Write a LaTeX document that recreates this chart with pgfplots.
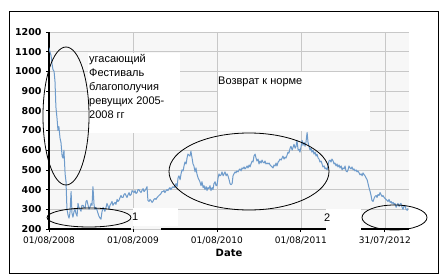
\documentclass[border=0pt]{standalone}
\usepackage{pgfplots}
\pgfplotsset{compat=1.18}
\usepackage{pgfplotstable}
\usepackage{fontspec}
\setmainfont{DejaVu Sans}
\newfontfamily\annot{Liberation Sans}
\definecolor{series}{HTML}{6E9BCB}
\definecolor{plotbg}{HTML}{F7F7F7}
\definecolor{gridc}{HTML}{C8C8C8}

\pgfplotstableread{
day value
0 1120
4 1100
9 1080
13 1040
17 1010
22 1000
26 950
30 820
35 760
39 700
43 720
48 660
52 640
57 570
61 560
65 600
70 480
74 440
78 300
83 270
87 255
91 280
96 390
100 280
104 260
109 290
113 300
117 280
122 265
126 330
130 310
135 300
139 290
143 320
148 320
152 310
157 305
161 340
165 345
170 320
174 300
178 310
183 330
187 320
191 415
196 320
200 300
204 310
209 295
213 280
217 265
222 255
226 250
230 285
235 310
239 300
243 290
248 310
252 330
257 315
261 300
265 320
270 330
274 340
278 320
283 330
287 335
291 325
296 350
300 340
304 345
309 360
313 370
317 360
322 360
326 375
330 380
335 370
339 360
344 375
348 385
352 370
357 375
361 395
365 390
370 385
374 395
378 380
383 385
387 400
391 400
396 390
400 385
404 395
409 405
413 390
417 395
422 405
426 415
430 345
435 340
439 350
443 345
448 335
452 340
456 350
461 355
465 350
470 360
474 365
478 370
483 375
487 380
491 390
496 390
500 395
504 385
509 395
513 400
517 395
522 405
526 410
530 400
535 410
539 415
544 410
548 420
552 430
557 415
561 460
565 470
570 450
574 480
578 500
583 495
587 520
591 540
596 530
600 560
604 580
609 575
613 570
617 595
622 560
626 530
630 520
635 490
639 510
643 480
648 460
652 450
656 440
661 420
665 440
670 410
674 420
678 400
683 415
687 395
691 410
696 405
700 420
704 395
709 410
713 400
717 430
722 440
726 420
730 420
735 460
739 480
743 470
748 475
752 490
757 470
761 480
765 490
770 470
774 480
778 470
783 450
787 430
791 425
796 430
800 470
804 480
809 490
813 485
817 495
822 490
826 500
830 505
835 495
839 510
843 505
848 515
852 505
856 510
861 520
865 510
870 525
874 515
878 530
883 545
887 540
891 570
896 580
900 560
904 545
909 555
913 530
917 545
922 535
926 550
930 540
935 535
939 545
943 530
948 535
952 530
957 535
961 525
965 520
970 515
974 510
978 525
983 520
987 535
991 520
996 540
1000 545
1004 555
1009 550
1013 560
1017 570
1022 555
1026 565
1030 560
1035 575
1039 590
1043 585
1048 610
1052 620
1057 600
1061 615
1065 630
1070 610
1074 620
1078 650
1083 600
1087 605
1091 590
1096 620
1100 650
1104 625
1109 640
1113 620
1117 640
1122 690
1126 640
1130 620
1135 600
1139 610
1143 590
1148 600
1152 580
1157 590
1161 570
1165 580
1170 560
1174 555
1178 540
1183 545
1187 530
1191 515
1196 520
1200 505
1204 510
1209 500
1213 520
1217 545
1222 550
1226 540
1230 555
1235 545
1239 530
1243 535
1248 520
1252 530
1256 515
1261 525
1265 510
1270 520
1274 500
1278 510
1283 505
1287 520
1291 495
1296 490
1300 500
1304 520
1309 510
1313 505
1317 515
1322 500
1326 505
1330 495
1335 500
1339 490
1343 495
1348 485
1352 475
1357 480
1361 470
1365 485
1370 475
1374 470
1378 460
1383 450
1387 430
1391 410
1396 390
1400 370
1404 345
1409 340
1413 355
1417 365
1422 370
1426 360
1430 375
1435 370
1439 385
1443 375
1448 365
1452 370
1457 360
1461 355
1465 350
1470 345
1474 340
1478 350
1483 335
1487 340
1491 330
1496 335
1500 325
1504 330
1509 310
1513 320
1517 330
1522 315
1526 325
1530 330
1535 310
1539 300
1543 315
1548 320
1552 300
1557 295
1561 305
}\pricedata

\begin{document}
\begin{tikzpicture}[x=1bp,y=1bp]
\begin{axis}[
  at={(49bp,47bp)}, anchor=south west,
  scale only axis, width=360bp, height=197bp,
  xmin=0, xmax=1565, ymin=200, ymax=1200,
  axis lines*=left,
  axis line style={-},
  x axis line style={draw=none},
  y axis line style={line width=2bp, black},
  axis background/.style={fill=plotbg},
  grid=major,
  major grid style={gridc, line width=0.6bp},
  xtick={0,365,730,1095,1460},
  xticklabels={01/08/2008,01/08/2009,01/08/2010,01/08/2011,31/07/2012},
  ytick={200,300,400,500,600,700,800,900,1000,1100,1200},
  tick align=outside,
  major tick length=3bp,
  tick style={black, line width=0.8bp},
  /pgf/number format/assume math mode=true,
  /pgf/number format/1000 sep={},
  yticklabel style={font=\fontsize{9.5bp}{11bp}\selectfont\bfseries, xshift=-1bp},
  xticklabel style={font=\fontsize{9bp}{11bp}\selectfont, yshift=-1bp},
  xlabel={Date},
  xlabel style={font=\fontsize{10bp}{12bp}\selectfont\bfseries, yshift=2bp},
]
\addplot[series, line width=1bp, mark=none, line join=round] table[x=day, y=value] {\pricedata};
\end{axis}

% white patches over the chart
\fill[white] (88,143) rectangle (180,223);
\fill[white] (218,145) rectangle (370,204);
\fill[white] (133,50) rectangle (178,68);
\fill[white] (326,46) rectangle (361,67);

% bottom axis line segments
\draw[line width=2bp] (49,47) -- (131,47);
\draw[line width=2bp] (161,47) -- (326,47);
\draw[line width=2bp] (361,47) -- (409,47);

% ellipses
\draw[line width=0.8bp] (66,160) ellipse [x radius=23, y radius=69];
\draw[line width=0.8bp] (89,58.5) ellipse [x radius=42, y radius=9.5];
\draw[line width=0.8bp] (249,104.5) ellipse [x radius=80, y radius=38.5];
\draw[line width=0.8bp] (394.5,58.5) ellipse [x radius=32.5, y radius=12.5];

% annotations
\node[anchor=north west, inner sep=0pt, align=left,
      font=\annot\fontsize{11bp}{14bp}\selectfont] at (89,222)
  {угасающий\\Фестиваль\\благополучия\\ревущих 2005-\\2008 гг};
\node[anchor=west, inner sep=0pt, font=\annot\fontsize{11bp}{14bp}\selectfont] at (218,194) {Возврат к норме};
\node[anchor=west, inner sep=0pt, font=\annot\fontsize{11bp}{14bp}\selectfont] at (132,59) {1};
\node[anchor=west, inner sep=0pt, font=\annot\fontsize{11bp}{14bp}\selectfont] at (324,58) {2};

% outer frame
\draw[line width=1bp] (9,3) rectangle (438,264);

\pgfresetboundingbox
\useasboundingbox (0,0) rectangle (444,276);
\end{tikzpicture}
\end{document}
